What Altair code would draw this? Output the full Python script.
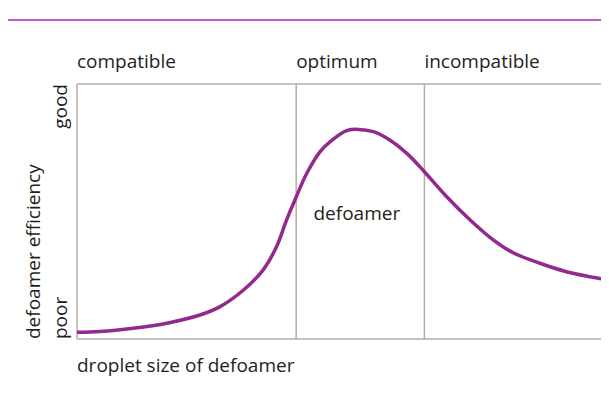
import altair as alt
import pandas as pd

# curve: droplet size (0-100) vs efficiency (0-100)
size = [0, 4.3, 10.6, 16.9, 23.1, 26.9, 31.3, 35.0, 37.5, 39.4, 41.2, 43.2, 45.7, 47.6,
        50.7, 52.9, 55.7, 58.8, 62.0, 65.3, 69.5, 73.9, 78.3, 82.0, 87.0, 92.0, 100]
efficiency = [2.6, 2.9, 4.2, 6.2, 9.4, 12.7, 19.2, 27.1, 36.2, 46.7, 55.7, 65.0, 73.5, 77.4,
              81.7, 82.2, 81.3, 78.0, 72.8, 65.6, 55.8, 46.7, 38.8, 33.8, 29.7, 26.4, 23.1]

region_names = ["compatible", "optimum", "incompatible"]
region_starts = [0, 41.2, 65.3]
boundaries = [41.2, 65.3]

X_MAX = 98.5  # visible part of the size axis

BORDER = "#b7aca3"
TEXT = "#231f20"
PURPLE = "#922a8e"
FONT = "Open Sans"
FS = 19

xs = alt.Scale(domain=[0, X_MAX], nice=False, zero=False)
ys = alt.Scale(domain=[0, 100], nice=False, zero=False)

curve_df = pd.DataFrame({"size": size, "eff": efficiency})
regions_df = pd.DataFrame({"name": region_names, "start": region_starts})
bounds_df = pd.DataFrame({"b": boundaries})
frame_h = pd.DataFrame({"y": [0, 100], "x": [0, 0], "x2": [X_MAX, X_MAX]})

hlines = alt.Chart(frame_h).mark_rule(color=BORDER, strokeWidth=1.5).encode(
    x=alt.X("x:Q", scale=xs, axis=None), x2="x2:Q",
    y=alt.Y("y:Q", scale=ys, axis=None))

left_line = alt.Chart(pd.DataFrame({"x": [0]})).mark_rule(color=BORDER, strokeWidth=1.5).encode(
    x=alt.X("x:Q", scale=xs, axis=None))

vlines = alt.Chart(bounds_df).mark_rule(color=BORDER, strokeWidth=1.5).encode(
    x=alt.X("b:Q", scale=xs, axis=None))

top_band = alt.Chart(pd.DataFrame({"x": [0]})).mark_rule(color="#b462bd", strokeWidth=1.8).encode(
    x=alt.value(-69), x2=alt.value(524), y=alt.value(-64))

line = alt.Chart(curve_df).mark_line(color=PURPLE, strokeWidth=3.5, interpolate="catmull-rom",
                                     clip=True).encode(
    x=alt.X("size:Q", scale=xs, axis=None),
    y=alt.Y("eff:Q", scale=ys, axis=None))

region_text = alt.Chart(regions_df).mark_text(
    align="left", baseline="alphabetic", dx=0, font=FONT, fontSize=FS, color=TEXT
).encode(x=alt.X("start:Q", scale=xs, axis=None), y=alt.value(-16), text="name:N")

curve_label = alt.Chart(pd.DataFrame({"x": [52.6], "y": [46.7], "t": ["defoamer"]})).mark_text(
    align="center", baseline="alphabetic", font=FONT, fontSize=FS, color=TEXT
).encode(x=alt.X("x:Q", scale=xs, axis=None), y=alt.Y("y:Q", scale=ys, axis=None), text="t:N")

good = alt.Chart(pd.DataFrame({"t": ["good"]})).mark_text(
    align="right", baseline="alphabetic", angle=270, font=FONT, fontSize=FS, color=TEXT
).encode(x=alt.value(-10), y=alt.value(0), text="t:N")

poor = alt.Chart(pd.DataFrame({"t": ["poor"]})).mark_text(
    align="left", baseline="alphabetic", angle=270, font=FONT, fontSize=FS, color=TEXT
).encode(x=alt.value(-10), y=alt.value(255), text="t:N")

ytitle = alt.Chart(pd.DataFrame({"t": ["defoamer efficiency"]})).mark_text(
    align="left", baseline="alphabetic", angle=270, font=FONT, fontSize=FS, color=TEXT
).encode(x=alt.value(-37), y=alt.value(255), text="t:N")

xtitle = alt.Chart(pd.DataFrame({"t": ["droplet size of defoamer"]})).mark_text(
    align="left", baseline="alphabetic", font=FONT, fontSize=FS, color=TEXT
).encode(x=alt.value(0), y=alt.value(288), text="t:N")

chart = alt.layer(
    hlines, left_line, vlines, top_band, line, region_text, curve_label, good, poor, ytitle, xtitle
).properties(
    width=524, height=255,
    autosize=alt.AutoSizeParams(type="none"),
    padding={"left": 69, "top": 76, "right": 0, "bottom": 45},
).configure_view(strokeWidth=0)

chart.save("out.html", embed_options={"renderer": "svg", "actions": False})
